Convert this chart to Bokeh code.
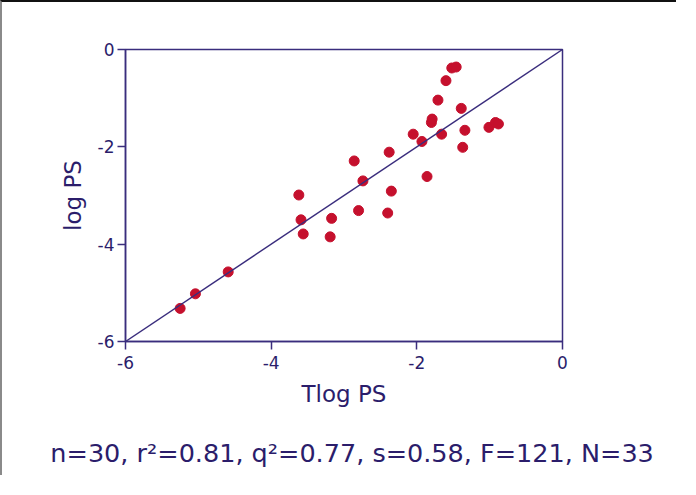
from bokeh.plotting import figure
from bokeh.models import Range1d, LinearAxis, Slope, FixedTicker, PrintfTickFormatter
from bokeh.embed import file_html
from bokeh.resources import INLINE

# Data
tlog_ps = [-5.25, -5.04, -4.59, -3.62, -3.59, -3.56, -3.17, -3.19, -2.86, -2.74,
           -2.80, -2.38, -2.35, -2.40, -2.05, -1.93, -1.86, -1.80, -1.79, -1.66,
           -1.71, -1.60, -1.52, -1.46, -1.39, -1.34, -1.37, -1.01, -0.92, -0.88]
log_ps = [-5.32, -5.02, -4.57, -2.99, -3.50, -3.79, -3.47, -3.85, -2.29, -2.70,
          -3.31, -2.11, -2.91, -3.36, -1.74, -1.89, -2.61, -1.50, -1.43, -1.74,
          -1.04, -0.64, -0.38, -0.36, -1.21, -1.66, -2.01, -1.60, -1.50, -1.53]
ticks = [-6, -4, -2, 0]
stats_text = "n=30, r\u00b2=0.81, q\u00b2=0.77, s=0.58, F=121, N=33"

TEXT = "#2b1d6b"
LINE = "#3a2d7d"
DOT = "#c5102d"

p = figure(width=676, height=475, output_backend="svg", toolbar_location=None,
           x_range=Range1d(-6, 0), y_range=Range1d(-6, 0),
           min_border_left=123, min_border_right=116,
           min_border_top=47, min_border_bottom=136,
           background_fill_color="white", border_fill_color="white",
           styles={"border-top": "2px solid #111111", "border-left": "2px solid #8a8a8a"})

p.grid.visible = False
p.outline_line_color = LINE
p.outline_line_width = 1.5

for ax in (p.xaxis[0], p.yaxis[0]):
    ax.ticker = FixedTicker(ticks=ticks)
    ax.formatter = PrintfTickFormatter(format="%d")
    ax.axis_line_color = LINE
    ax.axis_line_width = 1.5
    ax.major_tick_line_color = LINE
    ax.major_tick_line_width = 1.5
    ax.major_tick_out = 8
    ax.major_tick_in = 0
    ax.minor_tick_line_color = None
    ax.major_label_text_font = "DejaVu Sans"
    ax.major_label_text_font_size = "17px"
    ax.major_label_text_color = TEXT
    ax.axis_label_text_font = "DejaVu Sans"
    ax.axis_label_text_font_size = "23px"
    ax.axis_label_text_font_style = "normal"
    ax.axis_label_text_color = TEXT

p.xaxis[0].axis_label = "Tlog PS"
p.yaxis[0].axis_label = "log PS"
p.xaxis[0].major_label_standoff = 6
p.yaxis[0].major_label_standoff = 3
p.xaxis[0].axis_label_standoff = 9
p.yaxis[0].axis_label_standoff = 9

# statistics line, drawn as the label of a bare second axis below the first
# (two leading no-break spaces nudge its centre right, as in the reference)
stats_axis = LinearAxis(ticker=FixedTicker(ticks=[]),
                        axis_label="\u00a0\u00a0" + stats_text,
                        axis_line_color=None, major_tick_line_color=None,
                        minor_tick_line_color=None, major_tick_out=0,
                        major_label_standoff=0, axis_label_standoff=28,
                        axis_label_text_font="DejaVu Sans",
                        axis_label_text_font_size="25.5px",
                        axis_label_text_font_style="normal",
                        axis_label_text_color=TEXT)
p.add_layout(stats_axis, "below")

p.add_layout(Slope(gradient=1, y_intercept=0, line_color=LINE, line_width=1.4))

p.scatter(tlog_ps, log_ps, size=10, fill_color=DOT, line_color=DOT)

open("out.html", "w").write(file_html(p, INLINE))
